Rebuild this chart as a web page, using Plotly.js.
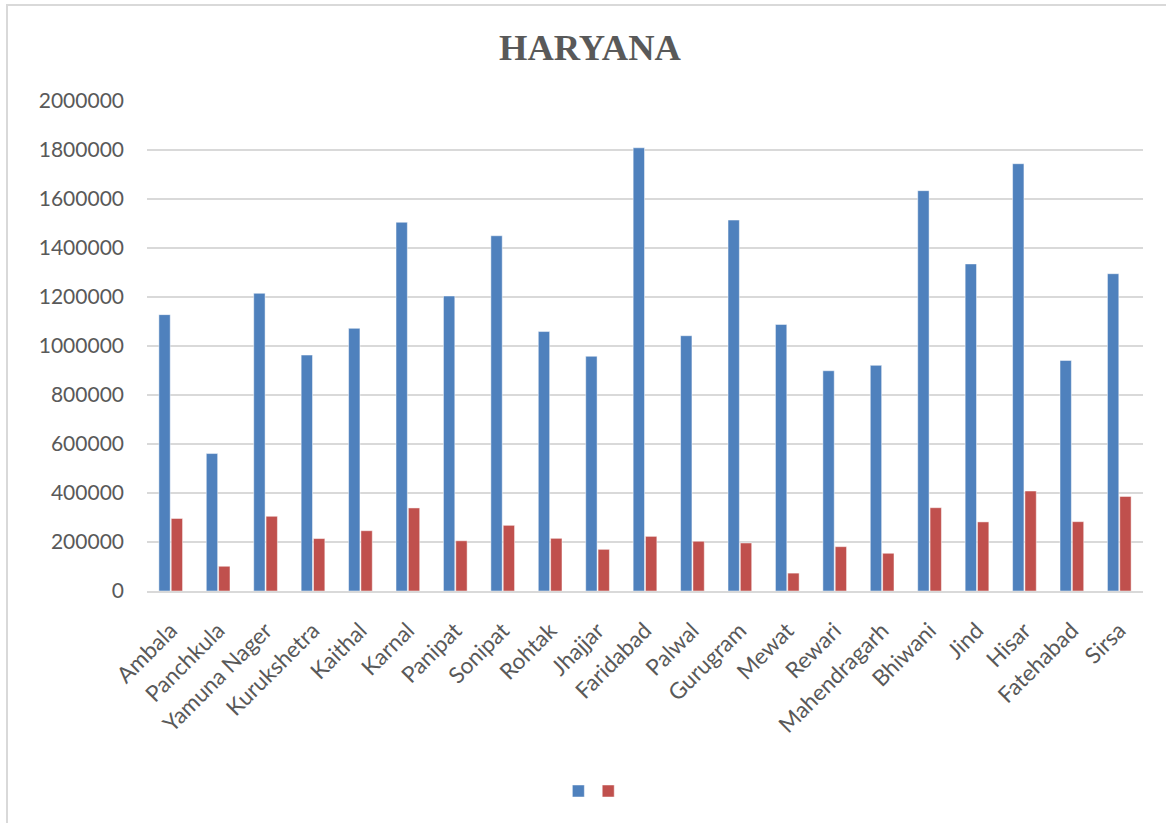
<!DOCTYPE html>
<html>
<head>
<meta charset="utf-8">
<script src="https://cdn.plot.ly/plotly-3.0.1.min.js"></script>
<style>
  html, body { margin: 0; padding: 0; overflow: hidden; background: #ffffff; }
  #chart { width: 1166px; height: 823px; }
  #frame { position: absolute; left: 6px; top: 4px; width: 1200px; height: 900px;
           border-left: 2px solid #d9d9d9; border-top: 2px solid #d9d9d9; pointer-events: none; }
</style>
</head>
<body>
<div id="chart"></div>
<div id="frame"></div>
<script>
const districts = ["Ambala", "Panchkula", "Yamuna Nager", "Kurukshetra", "Kaithal", "Karnal",
  "Panipat", "Sonipat", "Rohtak", "Jhajjar", "Faridabad", "Palwal", "Gurugram", "Mewat",
  "Rewari", "Mahendragarh", "Bhiwani", "Jind", "Hisar", "Fatehabad", "Sirsa"];

const seriesBlue = [1128000, 561000, 1215000, 963000, 1072000, 1505000, 1204000, 1450000,
  1059000, 958000, 1809000, 1042000, 1514000, 1088000, 899000, 921000, 1634000, 1335000,
  1744000, 941000, 1295000];

const seriesRed = [296000, 101000, 305000, 214000, 246000, 339000, 205000, 268000, 215000,
  170000, 223000, 203000, 196000, 73000, 181000, 154000, 340000, 282000, 408000, 283000, 386000];

const yTicks = [0, 200000, 400000, 600000, 800000, 1000000, 1200000, 1400000, 1600000, 1800000, 2000000];

const fontFamily = "Lato, 'Open Sans', sans-serif";

const traces = [
  { type: "bar", x: districts, y: seriesBlue, name: "", legend: "legend",
    marker: { color: "#4F81BD", line: { color: "rgba(255,255,255,0.6)", width: 0.8 } } },
  { type: "bar", x: districts, y: seriesRed, name: "", legend: "legend2",
    marker: { color: "#C0504D", line: { color: "rgba(255,255,255,0.6)", width: 0.8 } } }
];

const legendCommon = { orientation: "h", xanchor: "left", y: -0.409, yanchor: "middle",
  font: { size: 14, color: "#595959" }, itemwidth: 30, bgcolor: "rgba(0,0,0,0)" };

const layout = {
  width: 1166, height: 823,
  paper_bgcolor: "#ffffff", plot_bgcolor: "#ffffff",
  margin: { l: 147, r: 23, t: 101, b: 232 },
  title: { text: "<b>HARYANA</b>", x: 0.506, xanchor: "center", y: 0.943, yanchor: "middle",
           font: { family: "'Liberation Serif', 'Times New Roman', serif", size: 36.5, color: "#595959" } },
  barmode: "group", bargap: 0.48, bargroupgap: 0.08,
  showlegend: true,
  legend: Object.assign({}, legendCommon, { x: 0.413 }),
  legend2: Object.assign({}, legendCommon, { x: 0.443 }),
  xaxis: { type: "category", tickangle: -45,
           tickfont: { family: fontFamily, size: 22.5, color: "#595959" },
           ticks: "", showgrid: false,
           showline: true, linecolor: "#d9d9d9", linewidth: 1.5, ticklabelstandoff: 16 },
  yaxis: { range: [0, 2000000], tickvals: yTicks, ticktext: yTicks.map(String),
           tickfont: { family: fontFamily, size: 21, color: "#595959" },
           showgrid: true, gridcolor: "#d9d9d9", gridwidth: 1.5, zeroline: false, ticks: "",
           showline: false, ticklabelstandoff: 22 }
};

Plotly.newPlot("chart", traces, layout, { displayModeBar: false, staticPlot: true });
</script>
</body>
</html>
